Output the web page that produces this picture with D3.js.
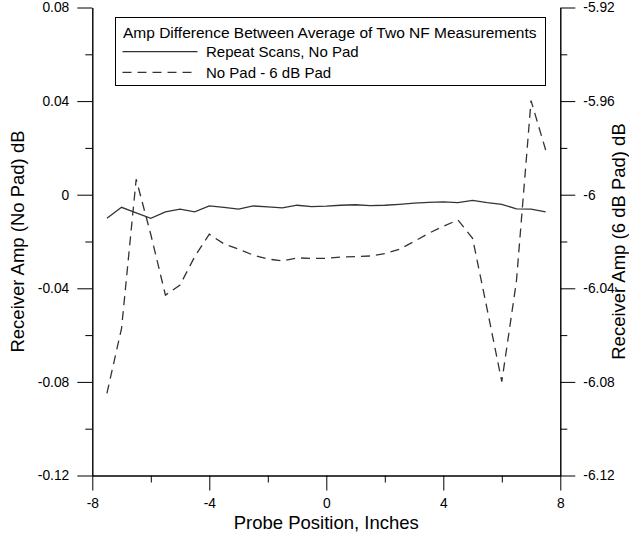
<!DOCTYPE html>
<html>
<head>
<meta charset="utf-8">
<script src="https://cdn.jsdelivr.net/npm/d3@7"></script>
<style>
  body { margin: 0; background: #fff; }
  svg { display: block; font-family: Arial, "Liberation Sans", sans-serif; }
</style>
</head>
<body>
<svg id="chart"></svg>
<script>
// probe positions (inches)
const positions = [-7.5, -7, -6.5, -6, -5.5, -5, -4.5, -4, -3.5, -3, -2.5, -2, -1.5, -1, -0.5, 0,
  0.5, 1, 1.5, 2, 2.5, 3, 3.5, 4, 4.5, 5, 5.5, 6, 6.5, 7, 7.5];

// Repeat Scans, No Pad (left axis)
const repeatScans = [-0.0101, -0.0054, -0.0078, -0.0101, -0.0073, -0.0062, -0.0073, -0.0048, -0.0054, -0.0062,
  -0.0048, -0.0052, -0.0056, -0.0045, -0.0051, -0.0049, -0.0045, -0.0043, -0.0047, -0.0045,
  -0.0041, -0.0036, -0.0033, -0.0031, -0.0034, -0.0024, -0.0034, -0.0041, -0.0061, -0.0062, -0.0073];

// No Pad - 6 dB Pad (left axis)
const padDiff = [-0.0849, -0.0571, 0.0066, -0.017, -0.0429, -0.0386, -0.0265, -0.0169, -0.021, -0.0233,
  -0.0258, -0.0275, -0.0283, -0.027, -0.0272, -0.0272, -0.0266, -0.0265, -0.0262, -0.0252,
  -0.0233, -0.020, -0.0165, -0.0135, -0.0108, -0.0186, -0.049, -0.0799, -0.037, 0.0402, 0.0191];

const xTicks = [-8, -4, 0, 4, 8];
const xMinor = [-6, -2, 2, 6];
const yTicks = [-0.12, -0.08, -0.04, 0, 0.04, 0.08];
const yLabels = ["-0.12", "-0.08", "-0.04", "0", "0.04", "0.08"];
const yMinor = [-0.10, -0.06, -0.02, 0.02, 0.06];
const y2Ticks = [-6.12, -6.08, -6.04, -6, -5.96, -5.92];
const y2Labels = ["-6.12", "-6.08", "-6.04", "-6", "-5.96", "-5.92"];
const y2Minor = [-6.10, -6.06, -6.02, -5.98, -5.94];

const legendTitle = "Amp Difference Between Average of Two NF Measurements";
const seriesNames = ["Repeat Scans, No Pad", "No Pad - 6 dB Pad"];

const width = 629, height = 537;
const plotLeft = 92.3, plotRight = 560.3, plotTop = 7.5, plotBottom = 475.5;

const svg = d3.select("#chart").attr("width", width).attr("height", height);

const x = d3.scaleLinear().domain([-8, 8]).range([plotLeft, plotRight]);
const y = d3.scaleLinear().domain([-0.12, 0.08]).range([plotBottom, plotTop]);
const y2 = d3.scaleLinear().domain([-6.12, -5.92]).range([plotBottom, plotTop]);

function styleAxis(g) {
  g.selectAll("path, line").attr("stroke", "#000").attr("stroke-width", 1);
  g.selectAll("text").attr("font-size", 13.8).attr("fill", "#000")
    .attr("font-family", "Arial, 'Liberation Sans', sans-serif");
}

// bottom axis
svg.append("g").attr("transform", `translate(0,${plotBottom})`)
  .call(d3.axisBottom(x).tickValues(xMinor).tickSize(7).tickSizeOuter(0).tickFormat(""))
  .call(styleAxis);
svg.append("g").attr("transform", `translate(0,${plotBottom})`)
  .call(d3.axisBottom(x).tickValues(xTicks).tickSize(15).tickSizeOuter(0).tickPadding(8)
    .tickFormat(d => String(d)))
  .call(styleAxis);

// left axis
svg.append("g").attr("transform", `translate(${plotLeft},0)`)
  .call(d3.axisLeft(y).tickValues(yMinor).tickSize(7).tickSizeOuter(0).tickFormat(""))
  .call(styleAxis);
svg.append("g").attr("transform", `translate(${plotLeft},0)`)
  .call(d3.axisLeft(y).tickValues(yTicks).tickSize(15).tickSizeOuter(0).tickPadding(8)
    .tickFormat((d, i) => yLabels[i]))
  .call(styleAxis);

// right axis
svg.append("g").attr("transform", `translate(${plotRight},0)`)
  .call(d3.axisRight(y2).tickValues(y2Minor).tickSize(7).tickSizeOuter(0).tickFormat(""))
  .call(styleAxis);
svg.append("g").attr("transform", `translate(${plotRight},0)`)
  .call(d3.axisRight(y2).tickValues(y2Ticks).tickSize(15).tickSizeOuter(0).tickPadding(8)
    .tickFormat((d, i) => y2Labels[i]))
  .call(styleAxis);

// series
const line = d3.line().x((d, i) => x(positions[i])).y(d => y(d));

svg.append("path").datum(repeatScans)
  .attr("d", line).attr("fill", "none")
  .attr("stroke", "#333").attr("stroke-width", 1.3);

svg.append("path").datum(padDiff)
  .attr("d", line).attr("fill", "none")
  .attr("stroke", "#333").attr("stroke-width", 1.3)
  .attr("stroke-dasharray", "9,6");

// axis titles
svg.append("text")
  .attr("x", (plotLeft + plotRight) / 2).attr("y", 529)
  .attr("text-anchor", "middle").attr("font-size", 18.5)
  .text("Probe Position, Inches");

svg.append("text")
  .attr("transform", `translate(24,${(plotTop + plotBottom) / 2}) rotate(-90)`)
  .attr("text-anchor", "middle").attr("font-size", 18.5)
  .text("Receiver Amp (No Pad) dB");

svg.append("text")
  .attr("transform", `translate(625,${(plotTop + plotBottom) / 2}) rotate(-90)`)
  .attr("text-anchor", "middle").attr("font-size", 18.5)
  .text("Receiver Amp (6 dB Pad) dB");

// legend
const legend = svg.append("g");
legend.append("rect")
  .attr("x", 115.5).attr("y", 17.5).attr("width", 430).attr("height", 68)
  .attr("fill", "#fff").attr("stroke", "#000").attr("stroke-width", 1);
legend.append("text")
  .attr("x", 123).attr("y", 38).attr("font-size", 15.5)
  .text(legendTitle);

const legendRows = [51.7, 72.3];
legendRows.forEach((ly, i) => {
  legend.append("line")
    .attr("x1", 122.5).attr("x2", 197.5).attr("y1", ly).attr("y2", ly)
    .attr("stroke", "#333").attr("stroke-width", 1.3)
    .attr("stroke-dasharray", i === 1 ? "9,6" : null);
  legend.append("text")
    .attr("x", 206).attr("y", ly).attr("dy", "0.35em").attr("font-size", 15)
    .text(seriesNames[i]);
});
</script>
</body>
</html>
